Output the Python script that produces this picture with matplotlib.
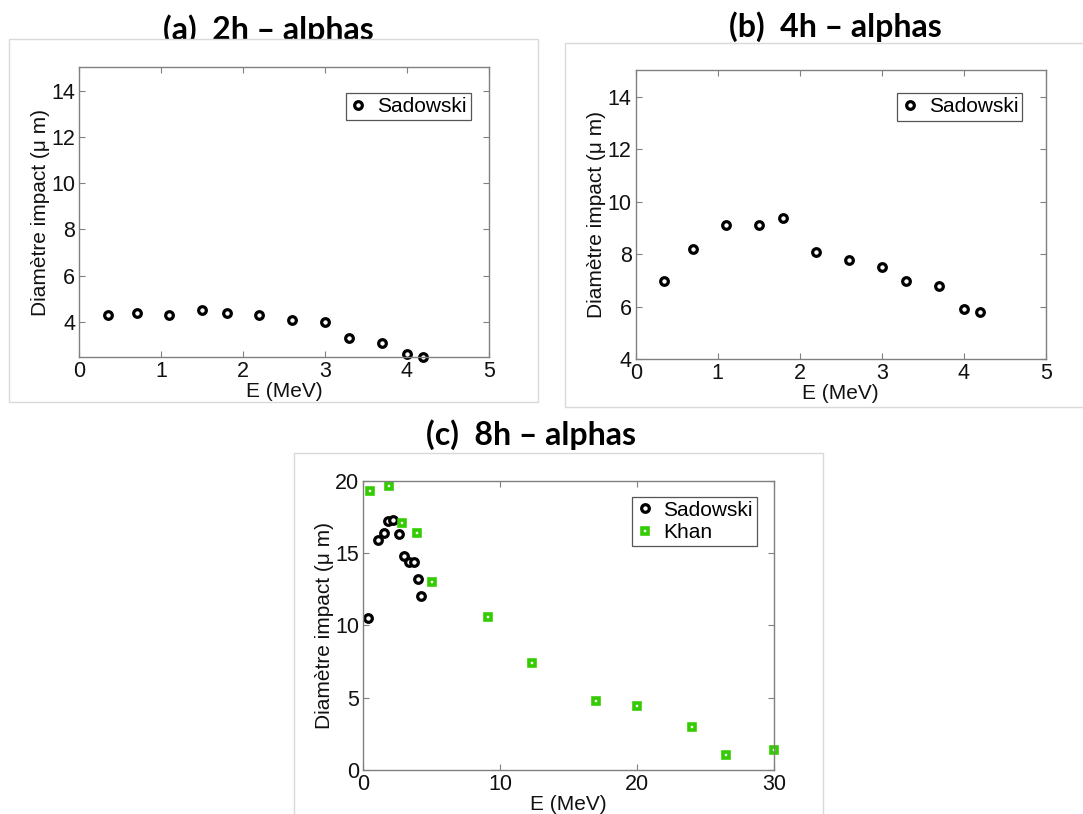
import matplotlib
matplotlib.use('Agg')
import matplotlib.pyplot as plt
from matplotlib.patches import Rectangle

# data
e_sad = [0.35, 0.7, 1.1, 1.5, 1.8, 2.2, 2.6, 3.0, 3.3, 3.7, 4.0, 4.2]
d_2h = [4.3, 4.4, 4.3, 4.5, 4.4, 4.3, 4.1, 4.0, 3.3, 3.1, 2.6, 2.5]
d_4h = [7.0, 8.2, 9.1, 9.1, 9.4, 8.1, 7.8, 7.5, 7.0, 6.8, 5.9, 5.8]

e_sad_8h = [0.35, 1.1, 1.5, 1.8, 2.2, 2.6, 3.0, 3.3, 3.7, 4.0, 4.2]
d_sad_8h = [10.5, 15.9, 16.4, 17.2, 17.3, 16.3, 14.8, 14.4, 14.4, 13.2, 12.0]

e_khan = [0.5, 1.9, 2.85, 3.95, 5.0, 9.1, 12.3, 17.0, 20.0, 24.0, 26.5, 30.0]
d_khan = [19.3, 19.6, 17.1, 16.4, 13.0, 10.6, 7.4, 4.8, 4.4, 3.0, 1.0, 1.4]

titles = ['(a)  2h \u2013 alphas', '(b)  4h \u2013 alphas', '(c)  8h \u2013 alphas']

plt.rcParams['font.family'] = ['Liberation Sans', 'DejaVu Sans']
plt.rcParams['font.size'] = 15

fig = plt.figure(figsize=(10.83, 8.14), dpi=100)

# grey frames around each panel (white face hides the bottom of the titles)
frames = [(0.0086, 0.5061, 0.4882, 0.4456),
          (0.5217, 0.5004, 0.4800, 0.4472),
          (0.2715, -0.005, 0.4887, 0.4485)]
for x0, y0, w, h in frames:
    fig.patches.append(Rectangle((x0, y0), w, h, transform=fig.transFigure,
                                 facecolor='white', edgecolor='#d9d9d9',
                                 lw=1.0, zorder=-1))

title_pos = [(0.2475, 0.9515), (0.771, 0.9545), (0.4903, 0.4533)]
for t, (tx, ty) in zip(titles, title_pos):
    fig.text(tx, ty, t, ha='center', va='baseline', fontsize=23,
             fontweight='bold', family=['Lato', 'DejaVu Sans'], zorder=-2)

ax_a = fig.add_axes([0.0732, 0.5618, 0.3780, 0.3553])
ax_b = fig.add_axes([0.5870, 0.5586, 0.3786, 0.3548])
ax_c = fig.add_axes([0.3355, 0.0541, 0.3792, 0.3554])

sad_kw = dict(ls='none', marker='o', ms=5.5, mfc='white', mec='black',
              mew=2.3, clip_on=False, label='Sadowski')
khan_kw = dict(ls='none', marker='s', ms=5, mfc='white', mec='#33cc00',
               mew=2.6, clip_on=False, label='Khan')

ax_a.plot(e_sad, d_2h, **sad_kw)
ax_a.set_xlim(0, 5)
ax_a.set_ylim(2.5, 15)
ax_a.set_xticks(range(0, 6))
ax_a.set_yticks(range(4, 15, 2))

ax_b.plot(e_sad, d_4h, **sad_kw)
ax_b.set_xlim(0, 5)
ax_b.set_ylim(4, 15)
ax_b.set_xticks(range(0, 6))
ax_b.set_yticks(range(4, 15, 2))

ax_c.plot(e_sad_8h, d_sad_8h, **sad_kw)
ax_c.plot(e_khan, d_khan, **khan_kw)
ax_c.set_xlim(0, 30)
ax_c.set_ylim(0, 20)
ax_c.set_xticks(range(0, 31, 10))
ax_c.set_yticks(range(0, 21, 5))

legend_anchor = [(0.956, 0.912), (0.943, 0.921), (0.959, 0.945)]
for ax, anchor in zip([ax_a, ax_b, ax_c], legend_anchor):
    for s in ax.spines.values():
        s.set_color('#808080')
        s.set_linewidth(1.0)
    ax.tick_params(direction='in', length=4, width=0.8, color='#808080',
                   top=True, right=True, labelsize=15.5, pad=3,
                   labelcolor='#111111')
    ax.set_xlabel('E (MeV)', labelpad=0, color='#111111')
    ax.set_ylabel('Diam\u00e8tre impact (\u03bc m)', labelpad=1, color='#111111')
    leg = ax.legend(loc='upper right', bbox_to_anchor=anchor, borderaxespad=0,
                    fancybox=False, framealpha=1, edgecolor='#555555',
                    handlelength=0.8, handletextpad=0.5, borderpad=0.2,
                    labelspacing=0.15, fontsize=15)
    leg.get_frame().set_linewidth(0.9)

fig.savefig('out.png', dpi=100)
